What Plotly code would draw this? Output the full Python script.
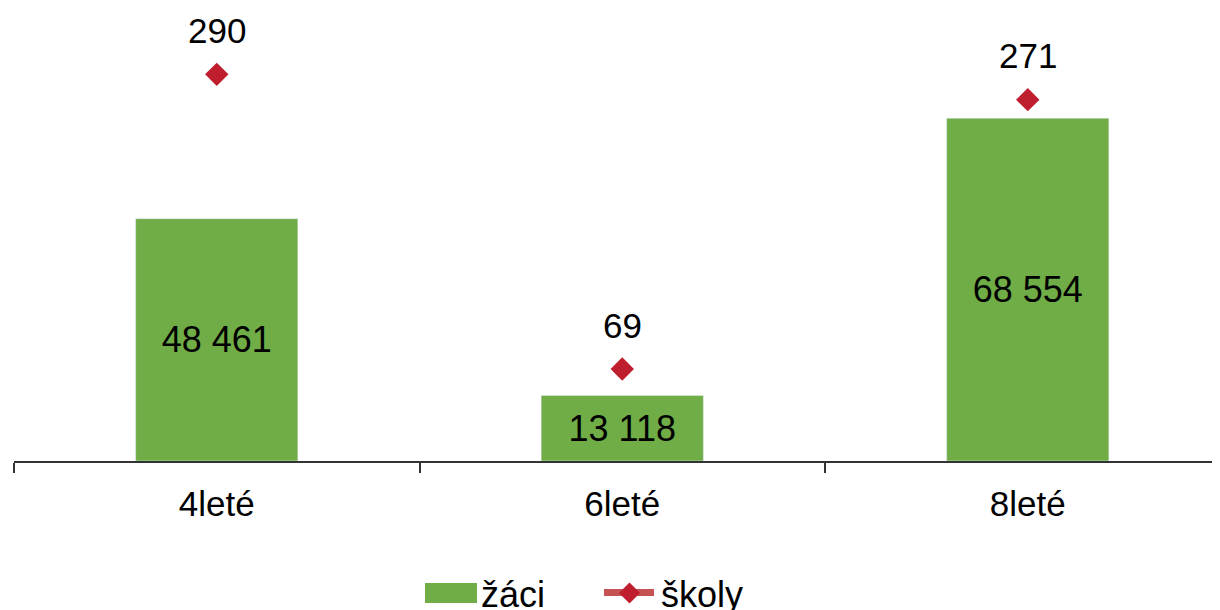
import plotly.graph_objects as go

categories = ["4leté", "6leté", "8leté"]
zaci = [48461, 13118, 68554]
skoly = [290, 69, 271]

GREEN = "#70AD47"
RED = "#BE1E2D"
LEG_LINE = "#C65353"
FONT = "Liberation Sans, Arial, sans-serif"

# The page body has an 8px margin, so the figure is sized/offset to compensate.
W, H = 1212, 602
ML, MR, MT, MB = 6, 0, 53, 149
PW, PH = W - ML - MR, H - MT - MB
PLOT_X0, PLOT_Y1 = 14, 461  # plot area left / bottom in page pixels
cat_px = 405.5


def px(x):
    return (x - PLOT_X0) / PW


def py(y):
    return (PLOT_Y1 - y) / PH


def fmt(v):
    return f"{v:,}".replace(",", " ")


fig = go.Figure()
fig.add_trace(go.Bar(
    x=categories, y=zaci, name="žáci", marker_color=GREEN,
    text=[fmt(v) for v in zaci], textposition="inside", insidetextanchor="middle",
    textfont=dict(size=36, color="black", family=FONT), constraintext="none",
    showlegend=False, yaxis="y",
))
fig.add_trace(go.Scatter(
    x=categories, y=skoly, name="školy", mode="markers",
    marker=dict(symbol="diamond", size=18, color=RED),
    showlegend=False, yaxis="y2",
))

annotations = []
for c, v in zip(categories, skoly):
    annotations.append(dict(
        x=c, y=v, xref="x", yref="y2", text=str(v), showarrow=False,
        yshift=44, yanchor="middle", font=dict(size=35, color="black", family=FONT),
    ))

# custom legend
shapes = [
    dict(type="rect", xref="paper", yref="paper", x0=px(425), x1=px(477), y0=py(603), y1=py(583),
         fillcolor=GREEN, line=dict(width=0)),
    dict(type="line", xref="paper", yref="paper", x0=px(604), x1=px(654), y0=py(592.5), y1=py(592.5),
         line=dict(color=LEG_LINE, width=7)),
    dict(type="path", xref="paper", yref="paper",
         path=f"M {px(619)} {py(593)} L {px(629.5)} {py(582.5)} L {px(640)} {py(593)} L {px(629.5)} {py(603.5)} Z",
         fillcolor=RED, line=dict(width=0)),
]
annotations += [
    dict(x=px(479), y=py(594), xref="paper", yref="paper", text="žáci", showarrow=False,
         xanchor="left", yanchor="middle", font=dict(size=36, color="black", family=FONT)),
    dict(x=px(659), y=py(594), xref="paper", yref="paper", text="školy", showarrow=False,
         xanchor="left", yanchor="middle", font=dict(size=36, color="black", family=FONT)),
]

fig.update_layout(
    width=W, height=H, margin=dict(l=ML, r=MR, t=MT, b=MB, pad=0),
    plot_bgcolor="white", paper_bgcolor="white",
    bargap=0.6, showlegend=False,
    font=dict(family=FONT, size=35, color="black"),
    xaxis=dict(
        type="category", range=[-0.5, -0.5 + PW / cat_px],
        showline=True, linecolor="#333333", linewidth=1.5,
        ticks="outside", tickson="boundaries", ticklen=10, tickcolor="#333333", tickwidth=1.5,
        tickfont=dict(size=35, color="black", family=FONT), ticklabelstandoff=11,
        showgrid=False, zeroline=False,
    ),
    yaxis=dict(range=[0, 80000], visible=False, showgrid=False, zeroline=False),
    yaxis2=dict(range=[0, 300], visible=False, overlaying="y", showgrid=False, zeroline=False),
    shapes=shapes, annotations=annotations,
)

fig.write_html("out.html")
